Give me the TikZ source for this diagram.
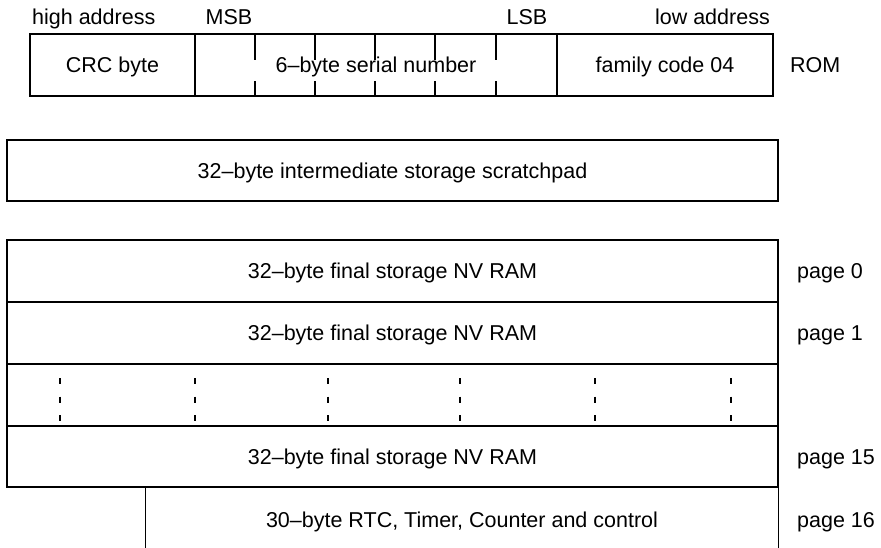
\documentclass[tikz,border=0pt]{standalone}
\usepackage{fontspec}
\setmainfont{Liberation Sans}
\begin{document}
\begin{tikzpicture}[x=1pt,y=-1pt,
  txt/.style={font=\fontsize{21.5}{25}\selectfont, inner sep=0pt, text height=15.4pt, text depth=0pt},
  cell/.style={txt, draw, line width=1.3pt, minimum height=#1},
  cell/.default=62pt,
  tick/.style={line width=1.3pt},
  dotcol/.style={line width=1.5pt, dash pattern=on 6pt off 12.5pt},
  side/.style={line width=1.3pt}]
\useasboundingbox[fill=white] (0,0) rectangle (881,547);

% ROM row
\node[txt, anchor=base west] (hi) at (32,24) {high address};
\node[txt, anchor=base] (msb) at (229,24) {MSB};
\node[txt, anchor=base] (lsb) at (527,24) {LSB};
\node[txt, anchor=base east] (lo) at (770,24) {low address};

\node[cell, minimum width=165pt] (crc) at (112.5,65) {CRC byte};
\node[cell, minimum width=362pt] (serial) at (376,65) {6--byte serial number};
\node[cell, minimum width=216pt] (family) at (665,65) {family code 04};
\node[txt, anchor=west] (rom) at (790,65) {ROM};

\foreach \x in {255,315,375,435,496}{
  \draw[tick] (\x,34) -- (\x,60);
  \draw[tick] (\x,81) -- (\x,96);
}

% scratchpad
\node[cell=61pt, minimum width=771pt] (scratch) at (392.5,170.5) {32--byte intermediate storage scratchpad};

% pages
\node[cell, minimum width=771pt] (p0) at (392.5,271) {32--byte final storage NV RAM};
\node[cell, minimum width=771pt] (p1) at (392.5,333) {32--byte final storage NV RAM};
\node[cell, minimum width=771pt] (dots) at (392.5,395) {};
\node[cell=61pt, minimum width=771pt] (p15) at (392.5,456.5) {32--byte final storage NV RAM};
\node[txt, minimum width=632pt, minimum height=66pt] (p16) at (462,520) {30--byte RTC, Timer, Counter and control};
\draw[side] (p16.north west) -- (p16.south west);
\draw[side] (p16.north east) -- (p16.south east);

\foreach \x in {60,195,328,460,595,731}{
  \draw[dotcol] (\x,378) -- (\x,423);
}

\node[txt, anchor=west] (l0) at (797,271) {page 0};
\node[txt, anchor=west] (l1) at (797,333) {page 1};
\node[txt, anchor=west] (l15) at (797,457) {page 15};
\node[txt, anchor=west] (l16) at (797,520) {page 16};
\end{tikzpicture}
\end{document}
